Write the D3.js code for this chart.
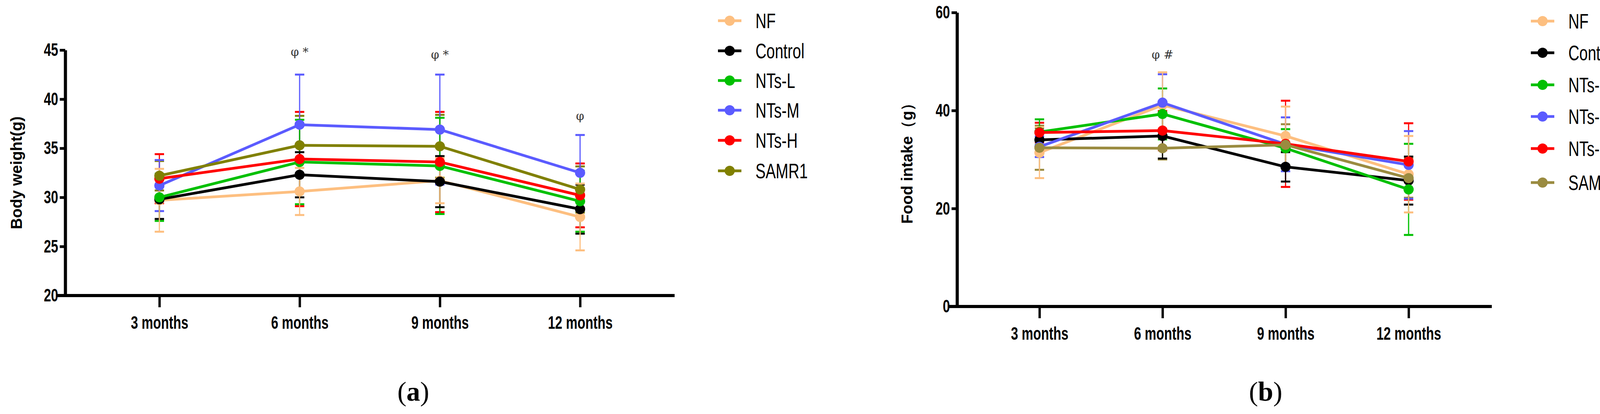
<!DOCTYPE html>
<html>
<head>
<meta charset="utf-8">
<script src="https://cdn.jsdelivr.net/npm/d3@7"></script>
<style>
  body { margin: 0; background: #fff; }
  text { font-family: "Liberation Sans", Arial, sans-serif; }
</style>
</head>
<body>
<svg id="chart" width="4209" height="1059"></svg>
<script>
// data
const months = ["3 months", "6 months", "9 months", "12 months"];
const groups = ["NF", "Control", "NTs-L", "NTs-M", "NTs-H", "SAMR1"];

const weightMean = {
  "NF":      [29.7, 30.6, 31.7, 28.0],
  "Control": [29.8, 32.3, 31.6, 28.8],
  "NTs-L":   [30.0, 33.6, 33.2, 29.6],
  "NTs-M":   [31.2, 37.4, 36.9, 32.5],
  "NTs-H":   [31.9, 33.9, 33.6, 30.2],
  "SAMR1":   [32.2, 35.3, 35.2, 30.8]
};
const weightSd = {
  "NF":      [3.2, 2.4, 2.3, 3.4],
  "Control": [2.0, 2.3, 2.6, 2.5],
  "NTs-L":   [2.4, 4.3, 4.9, 3.1],
  "NTs-M":   [2.6, 5.1, 5.6, 3.85],
  "NTs-H":   [2.5, 4.8, 5.1, 3.25],
  "SAMR1":   [1.5, 3.0, 3.2, 2.35]
};
const foodMean = {
  "NF":      [31.4, 41.1, 34.8, 27.0],
  "Control": [34.0, 34.8, 28.5, 25.7],
  "NTs-L":   [35.6, 39.3, 32.3, 23.9],
  "NTs-M":   [32.6, 41.6, 33.1, 28.9],
  "NTs-H":   [35.5, 35.9, 33.2, 29.6],
  "SAMR1":   [32.4, 32.3, 33.0, 26.2]
};
const foodSd = {
  "NF":      [5.2, 6.7, 6.0, 7.8],
  "Control": [2.5, 4.6, 3.0, 4.9],
  "NTs-L":   [2.6, 5.2, 3.9, 9.3],
  "NTs-M":   [2.1, 5.8, 5.5, 6.9],
  "NTs-H":   [2.0, 4.0, 8.8, 7.8],
  "SAMR1":   [4.5, 2.3, 4.2, 4.0]
};
const weightTicks = [20, 25, 30, 35, 40, 45];
const foodTicks = [0, 20, 40, 60];
const weightNotes = [["φ *", 1, 143], ["φ *", 2, 150], ["φ", 3, 307]];
const foodNotes = [["φ  #", 1, 150]];

const colorsA = ["#fdbf80", "#000000", "#00c000", "#5b5bff", "#ff0000", "#808000"];
const colorsB = ["#fdbf80", "#000000", "#00c000", "#5b5bff", "#ff0000", "#9a8b40"];

const svg = d3.select("#chart");
const narrow = 0.72; // squeeze to mimic the condensed font of the original

function squeeze(sel, anchorX) {
  // scale text horizontally around its own x position
  sel.each(function () {
    const t = d3.select(this);
    const px = anchorX != null ? anchorX : +(t.attr("x") || 0);
    t.attr("transform", `translate(${px},0) scale(${narrow},1) translate(${-px},0)`);
  });
}

function panel(cfg) {
  const g = svg.append("g");
  const x = d3.scalePoint().domain(months).range(cfg.xr);
  const y = d3.scaleLinear().domain(cfg.yd).range([cfg.y0, cfg.y1]);
  const color = d3.scaleOrdinal().domain(groups).range(cfg.colors);

  // axes
  const ya = g.append("g").attr("transform", `translate(${cfg.ax},0)`)
    .call(d3.axisLeft(y).tickValues(cfg.ticks).tickSize(14).tickSizeOuter(0).tickPadding(4));
  ya.select(".domain").attr("stroke-width", 8);
  ya.selectAll(".tick line").attr("stroke-width", 7);
  ya.selectAll("text").attr("font-size", 46).attr("font-weight", "bold").attr("fill", "#000")
    .style("font-family", "Liberation Sans, Arial, sans-serif");
  squeeze(ya.selectAll("text"), -18);

  const xa = g.append("g").attr("transform", `translate(0,${cfg.y0})`)
    .call(d3.axisBottom(x).tickSize(30).tickSizeOuter(0).tickPadding(22));
  xa.select(".domain").attr("d", `M${cfg.ax - 20},0H${cfg.xend}`).attr("stroke-width", 8);
  xa.selectAll(".tick line").attr("stroke-width", 6);
  xa.selectAll("text").attr("font-size", 46).attr("font-weight", "bold").attr("fill", "#000")
    .style("font-family", "Liberation Sans, Arial, sans-serif");
  squeeze(xa.selectAll("text"), 0);

  g.append("text")
    .attr("transform", `translate(${cfg.labelX},${(cfg.y0 + cfg.y1) / 2}) rotate(-90)`)
    .attr("text-anchor", "middle").attr("dy", "0.35em")
    .attr("font-weight", "bold").attr("font-size", 40)
    .text(cfg.label);

  const line = d3.line().x((d, i) => x(months[i])).y(d => y(d));

  groups.slice().reverse().forEach(grp => {
    const c = color(grp);
    const m = cfg.mean[grp], s = cfg.sd[grp];
    const eg = g.append("g").attr("stroke", c).attr("stroke-width", 3);
    m.forEach((v, i) => {
      const cx = x(months[i]);
      eg.append("line").attr("x1", cx).attr("x2", cx).attr("y1", y(v - s[i])).attr("y2", y(v + s[i]));
      [v - s[i], v + s[i]].forEach(e => {
        eg.append("line").attr("x1", cx - 12).attr("x2", cx + 12)
          .attr("y1", y(e)).attr("y2", y(e)).attr("stroke-width", 5);
      });
    });
  });
  groups.forEach(grp => {
    const c = color(grp);
    const m = cfg.mean[grp];
    g.append("path").datum(m).attr("d", line)
      .attr("fill", "none").attr("stroke", c).attr("stroke-width", 7);
    g.selectAll(null).data(m).enter().append("circle")
      .attr("cx", (d, i) => x(months[i])).attr("cy", d => y(d))
      .attr("r", 13).attr("fill", c);
  });

  cfg.notes.forEach(([t, i, yy]) => {
    g.append("text").attr("x", x(months[i])).attr("y", yy)
      .attr("text-anchor", "middle").attr("font-size", 30).attr("fill", "#333")
      .style("font-family", "DejaVu Serif, serif").text(t);
  });

  // legend
  const lg = g.append("g");
  groups.forEach((grp, i) => {
    const yy = cfg.legY[i];
    const c = color(grp);
    lg.append("line").attr("x1", cfg.legX - 30).attr("x2", cfg.legX + 30)
      .attr("y1", yy).attr("y2", yy).attr("stroke", c).attr("stroke-width", 7);
    lg.append("circle").attr("cx", cfg.legX).attr("cy", yy).attr("r", 13).attr("fill", c);
    const t = lg.append("text").attr("x", cfg.legX + 66).attr("y", yy).attr("dy", "0.36em")
      .attr("font-size", 54).attr("fill", "#000").text(grp);
    squeeze(t);
  });

  svg.append("text").attr("x", cfg.capX).attr("y", 1025)
    .attr("text-anchor", "middle").attr("font-size", 70)
    .style("font-family", "Liberation Serif, serif")
    .html(`(<tspan font-weight="bold">${cfg.cap}</tspan>)`);
}

panel({
  xr: [408, 1485], ax: 167, xend: 1727, yd: [20, 45], y0: 756, y1: 128,
  ticks: weightTicks, colors: colorsA, mean: weightMean, sd: weightSd,
  label: "Body weight(g)", labelX: 42, notes: weightNotes,
  legX: 1868, legY: [53, 130, 206, 282, 359, 437], cap: "a", capX: 1058
});
panel({
  xr: [2661, 3606], ax: 2450, xend: 3819, yd: [0, 60], y0: 784, y1: 32,
  ticks: foodTicks, colors: colorsB, mean: foodMean, sd: foodSd,
  label: "Food intake（g）", labelX: 2322, notes: foodNotes,
  legX: 3949, legY: [54, 135, 217, 298, 380, 467], cap: "b", capX: 3240
});
</script>
</body>
</html>
